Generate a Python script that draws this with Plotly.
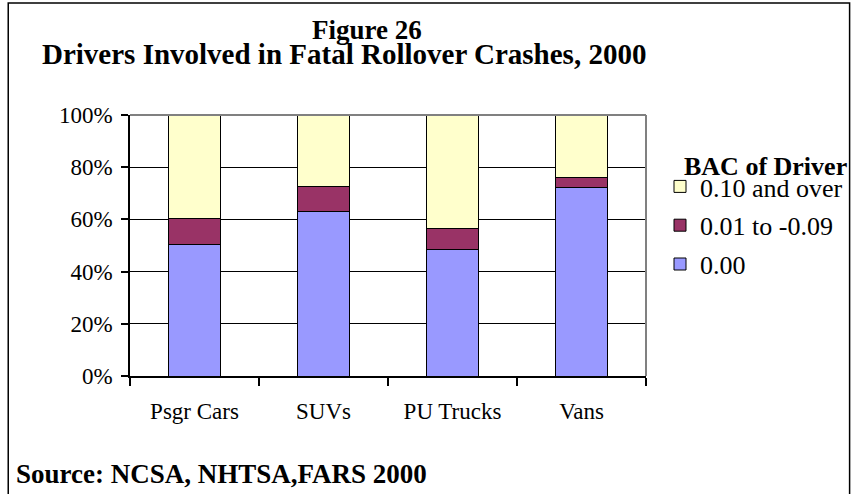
import plotly.graph_objects as go

categories = ["Psgr Cars", "SUVs", "PU Trucks", "Vans"]
bac_000 = [50.3, 63.0, 48.3, 72.3]
bac_001_009 = [10.1, 9.7, 8.3, 3.8]
bac_010_over = [39.6, 27.3, 43.4, 23.9]
series_names = ["0.00", "0.01 to -0.09", "0.10 and over"]
series_colors = ["#9999FF", "#993366", "#FFFFCC"]
y_ticks = [0, 20, 40, 60, 80, 100]
y_tick_labels = ["0%", "20%", "40%", "60%", "80%", "100%"]

W, H = 859, 494
# plot area in page pixels
L, R, T, B = 130, 647, 115, 376
PW, PH = R - L, B - T


def px(x):
    return (x - L) / PW


def py(y):
    return (B - y) / PH


SERIF = "Liberation Serif"

fig = go.Figure()
n = len(series_names)
for i, (name, vals, col) in enumerate(zip(series_names, [bac_000, bac_001_009, bac_010_over], series_colors)):
    fig.add_trace(go.Bar(
        x=categories, y=vals, name=name, legendgroup=name, legendrank=n - i,
        marker=dict(color=col, line=dict(color="#000000", width=1)),
    ))

fig.update_layout(
    width=W, height=H,
    margin=dict(l=L, r=W - R, t=T, b=H - B, pad=0),
    barmode="stack", bargap=0.6,
    paper_bgcolor="white", plot_bgcolor="white",
    font=dict(family=SERIF, color="black", size=23),
    showlegend=True,
    legend=dict(
        x=px(660), y=py(163), xanchor="left", yanchor="top",
        traceorder="grouped", tracegroupgap=2,
        font=dict(family=SERIF, size=26, color="black"),
        bgcolor="rgba(0,0,0,0)", borderwidth=0,
        itemwidth=30,
    ),
    xaxis=dict(
        type="category", showline=True, linecolor="black", linewidth=1.5,
        ticks="outside", tickson="boundaries", ticklen=8, tickcolor="black",
        tickwidth=1.5, showgrid=False, ticklabelstandoff=14,
        tickfont=dict(family=SERIF, size=23, color="black"),
    ),
    yaxis=dict(
        range=[0, 100], tickvals=y_ticks, ticktext=y_tick_labels,
        showline=True, linecolor="black", linewidth=1.5,
        ticks="outside", ticklen=7, tickcolor="black", tickwidth=1.5,
        showgrid=True, gridcolor="black", gridwidth=1, zeroline=False,
        ticklabelstandoff=4,
        tickfont=dict(family=SERIF, size=23, color="black"),
    ),
    shapes=[
        dict(type="line", xref="paper", yref="paper", x0=0, x1=1, y0=1, y1=1,
             line=dict(color="#808080", width=2), layer="above"),
        dict(type="line", xref="paper", yref="paper", x0=1, x1=1, y0=0, y1=1,
             line=dict(color="#808080", width=2), layer="above"),
        dict(type="rect", xref="paper", yref="paper",
             x0=px(8), x1=px(851), y0=py(530), y1=py(3),
             line=dict(color="black", width=1.5), layer="above"),
    ],
    annotations=[
        dict(text="<b>Figure 26</b>", xref="paper", yref="paper",
             x=px(367), y=py(30), xanchor="center", yanchor="middle",
             showarrow=False, font=dict(family=SERIF, size=27, color="black")),
        dict(text="<b>Drivers Involved in Fatal Rollover Crashes, 2000</b>",
             xref="paper", yref="paper", x=px(344), y=py(54),
             xanchor="center", yanchor="middle", showarrow=False,
             font=dict(family=SERIF, size=29, color="black")),
        dict(text="<b>BAC of Driver</b>", xref="paper", yref="paper",
             x=px(683), y=py(166), xanchor="left", yanchor="middle",
             showarrow=False, font=dict(family=SERIF, size=26, color="black")),
        dict(text="<b>Source: NCSA, NHTSA,FARS 2000</b>", xref="paper", yref="paper",
             x=px(14), y=py(474), xanchor="left", yanchor="middle",
             showarrow=False, font=dict(family=SERIF, size=27, color="black")),
    ],
)

fig.write_html("out.html", config={"displayModeBar": False},
               post_script="document.body.style.margin='0px';")
